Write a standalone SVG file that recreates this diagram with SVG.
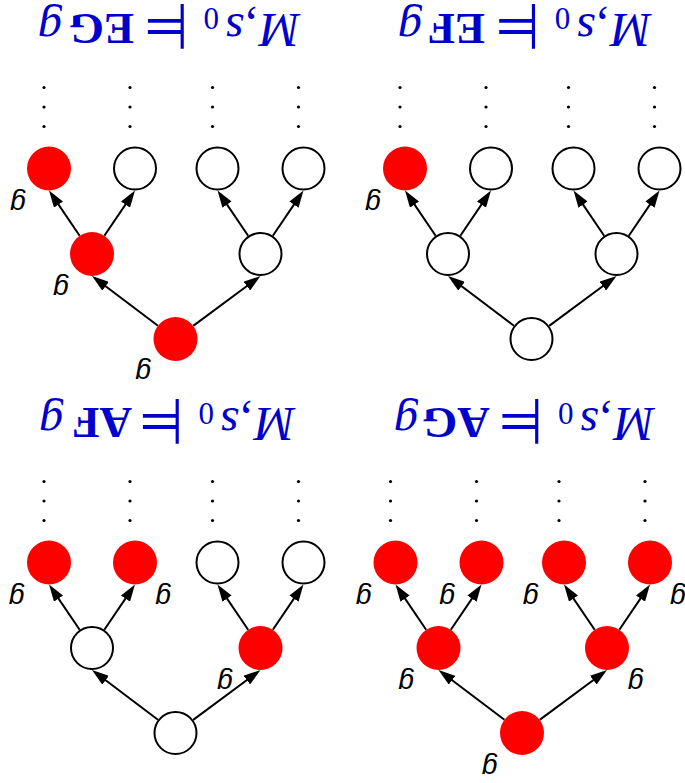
<svg xmlns="http://www.w3.org/2000/svg" width="685" height="783" viewBox="0 0 685 783">
<defs>
<style>
.red{fill:#ff0000;stroke:none}
.wht{fill:#ffffff;stroke:#000000;stroke-width:2}
.edge{stroke:#000000;stroke-width:2;fill:none;marker-end:url(#ah)}
.lbl{font-family:"Liberation Sans",Arial,sans-serif;font-style:italic;font-size:28px;fill:#000000;text-anchor:middle}
.dot{fill:#000000}
.ttl{font-family:"Liberation Serif","Times New Roman",serif;font-size:48px;fill:#0000cc}
.it{font-style:italic}
.bf{font-weight:bold;font-size:45px}
.sub{font-size:31px}
.mod{font-family:"DejaVu Sans",sans-serif;font-size:64px}
</style>
<marker id="ah" viewBox="0 0 17 11" refX="9" refY="5.5" markerWidth="17" markerHeight="11" markerUnits="userSpaceOnUse" orient="auto">
<path d="M0,0 L17,5.5 L0,11 z" fill="#000000"/>
</marker>
</defs>
<g transform="rotate(180 342.5 391.5)">
<g id="connectors">
<line class="edge" x1="491.83" y1="457.10" x2="430.93" y2="502.24"/>
<line class="edge" x1="527.06" y1="457.25" x2="586.61" y2="502.18"/>
<line class="edge" x1="412.16" y1="547.22" x2="385.99" y2="585.88"/>
<line class="edge" x1="436.84" y1="547.22" x2="463.01" y2="585.88"/>
<line class="edge" x1="580.66" y1="547.22" x2="554.49" y2="585.88"/>
<line class="edge" x1="605.34" y1="547.22" x2="631.51" y2="585.88"/>
<line class="edge" x1="135.83" y1="457.10" x2="74.93" y2="502.24"/>
<line class="edge" x1="171.06" y1="457.25" x2="230.61" y2="502.18"/>
<line class="edge" x1="56.16" y1="547.22" x2="29.99" y2="585.88"/>
<line class="edge" x1="80.84" y1="547.22" x2="107.01" y2="585.88"/>
<line class="edge" x1="224.66" y1="547.22" x2="198.49" y2="585.88"/>
<line class="edge" x1="249.34" y1="547.22" x2="275.51" y2="585.88"/>
<line class="edge" x1="491.83" y1="63.10" x2="430.93" y2="108.24"/>
<line class="edge" x1="527.06" y1="63.25" x2="586.61" y2="108.18"/>
<line class="edge" x1="412.16" y1="153.22" x2="385.99" y2="191.88"/>
<line class="edge" x1="436.84" y1="153.22" x2="463.01" y2="191.88"/>
<line class="edge" x1="580.66" y1="153.22" x2="554.49" y2="191.88"/>
<line class="edge" x1="605.34" y1="153.22" x2="631.51" y2="191.88"/>
<line class="edge" x1="145.33" y1="63.10" x2="84.43" y2="108.24"/>
<line class="edge" x1="180.56" y1="63.25" x2="240.11" y2="108.18"/>
<line class="edge" x1="65.66" y1="153.22" x2="39.49" y2="191.88"/>
<line class="edge" x1="90.34" y1="153.22" x2="116.51" y2="191.88"/>
<line class="edge" x1="234.16" y1="153.22" x2="207.99" y2="191.88"/>
<line class="edge" x1="258.84" y1="153.22" x2="285.01" y2="191.88"/>
</g>
<!-- EG panel -->
<g id="eg-root"><circle class="red" cx="509.5" cy="444" r="22"/><text class="lbl" x="541.7" y="419.5">g</text></g>
<g id="eg-m1"><circle class="wht" cx="424.5" cy="529" r="21"/></g>
<g id="eg-m2"><circle class="red" cx="593" cy="529" r="22"/><text class="lbl" x="624" y="503.5">g</text></g>
<g id="eg-l1"><circle class="wht" cx="381.5" cy="614.5" r="21"/></g>
<g id="eg-l2"><circle class="wht" cx="467.5" cy="614.5" r="21"/></g>
<g id="eg-l3"><circle class="wht" cx="550" cy="614.5" r="21"/></g>
<g id="eg-l4"><circle class="red" cx="636" cy="614.5" r="22"/><text class="lbl" x="667" y="588.2">g</text></g>
<g id="eg-dots" class="dot">
<circle cx="386.5" cy="656.5" r="1.6"/><circle cx="386.5" cy="676" r="1.6"/><circle cx="386.5" cy="695.5" r="1.6"/>
<circle cx="472.5" cy="656.5" r="1.6"/><circle cx="472.5" cy="676" r="1.6"/><circle cx="472.5" cy="695.5" r="1.6"/>
<circle cx="555" cy="656.5" r="1.6"/><circle cx="555" cy="676" r="1.6"/><circle cx="555" cy="695.5" r="1.6"/>
<circle cx="641" cy="656.5" r="1.6"/><circle cx="641" cy="676" r="1.6"/><circle cx="641" cy="695.5" r="1.6"/>
</g>
<g id="eg-title" class="ttl">
<text x="385" y="769.5" class="it">M</text><text x="428" y="769.5">,</text><text x="441" y="769.5" class="it">s</text><text x="466" y="774.7" class="sub">0</text><text class="mod" transform="translate(497 779) scale(0.8 1)">⊨</text><text x="551" y="769.5" class="bf">EG</text><text x="623" y="769.5" class="it">g</text>
</g>
<!-- EF panel -->
<g id="ef-root"><circle class="wht" cx="153.5" cy="444" r="21"/></g>
<g id="ef-m1"><circle class="wht" cx="68.5" cy="529" r="21"/></g>
<g id="ef-m2"><circle class="wht" cx="237" cy="529" r="21"/></g>
<g id="ef-l1"><circle class="wht" cx="25.5" cy="614.5" r="21"/></g>
<g id="ef-l2"><circle class="wht" cx="111.5" cy="614.5" r="21"/></g>
<g id="ef-l3"><circle class="wht" cx="194" cy="614.5" r="21"/></g>
<g id="ef-l4"><circle class="red" cx="280" cy="614.5" r="22"/><text class="lbl" x="312" y="588.2">g</text></g>
<g id="ef-dots" class="dot">
<circle cx="30.5" cy="656.5" r="1.6"/><circle cx="30.5" cy="676" r="1.6"/><circle cx="30.5" cy="695.5" r="1.6"/>
<circle cx="116.5" cy="656.5" r="1.6"/><circle cx="116.5" cy="676" r="1.6"/><circle cx="116.5" cy="695.5" r="1.6"/>
<circle cx="199" cy="656.5" r="1.6"/><circle cx="199" cy="676" r="1.6"/><circle cx="199" cy="695.5" r="1.6"/>
<circle cx="285" cy="656.5" r="1.6"/><circle cx="285" cy="676" r="1.6"/><circle cx="285" cy="695.5" r="1.6"/>
</g>
<g id="ef-title" class="ttl">
<text x="33.7" y="769.5" class="it">M</text><text x="76.7" y="769.5">,</text><text x="89.7" y="769.5" class="it">s</text><text x="114.7" y="774.7" class="sub">0</text><text class="mod" transform="translate(145.7 779) scale(0.8 1)">⊨</text><text x="200" y="769.5" class="bf">EF</text><text x="263" y="769.5" class="it">g</text>
</g>
<!-- AF panel -->
<g id="af-root"><circle class="wht" cx="509.5" cy="50" r="21"/></g>
<g id="af-m1"><circle class="red" cx="424.5" cy="135" r="22"/><text class="lbl" x="460" y="109.2">g</text></g>
<g id="af-m2"><circle class="wht" cx="593" cy="135" r="21"/></g>
<g id="af-l1"><circle class="wht" cx="381.5" cy="220.5" r="21"/></g>
<g id="af-l2"><circle class="wht" cx="467.5" cy="220.5" r="21"/></g>
<g id="af-l3"><circle class="red" cx="550" cy="220.5" r="22"/><text class="lbl" x="521.7" y="194.2">g</text></g>
<g id="af-l4"><circle class="red" cx="636" cy="220.5" r="22"/><text class="lbl" x="668.3" y="194.2">g</text></g>
<g id="af-dots" class="dot">
<circle cx="386.5" cy="262.5" r="1.6"/><circle cx="386.5" cy="282" r="1.6"/><circle cx="386.5" cy="301.5" r="1.6"/>
<circle cx="472.5" cy="262.5" r="1.6"/><circle cx="472.5" cy="282" r="1.6"/><circle cx="472.5" cy="301.5" r="1.6"/>
<circle cx="555" cy="262.5" r="1.6"/><circle cx="555" cy="282" r="1.6"/><circle cx="555" cy="301.5" r="1.6"/>
<circle cx="641" cy="262.5" r="1.6"/><circle cx="641" cy="282" r="1.6"/><circle cx="641" cy="301.5" r="1.6"/>
</g>
<g id="af-title" class="ttl">
<text x="390" y="375" class="it">M</text><text x="433" y="375">,</text><text x="446" y="375" class="it">s</text><text x="471" y="380.2" class="sub">0</text><text class="mod" transform="translate(502 384.5) scale(0.8 1)">⊨</text><text x="553" y="375" class="bf">AF</text><text x="621.7" y="375" class="it">g</text>
</g>
<!-- AG panel -->
<g id="ag-root"><circle class="red" cx="163" cy="50" r="22"/><text class="lbl" x="195.3" y="24.2">g</text></g>
<g id="ag-m1"><circle class="red" cx="78" cy="135" r="22"/><text class="lbl" x="49.3" y="109.2">g</text></g>
<g id="ag-m2"><circle class="red" cx="246.5" cy="135" r="22"/><text class="lbl" x="278.7" y="109.2">g</text></g>
<g id="ag-l1"><circle class="red" cx="35" cy="220.5" r="22"/><text class="lbl" x="7" y="194.2">g</text></g>
<g id="ag-l2"><circle class="red" cx="121" cy="220.5" r="22"/><text class="lbl" x="154.3" y="194.2">g</text></g>
<g id="ag-l3"><circle class="red" cx="203.5" cy="220.5" r="22"/><text class="lbl" x="237.7" y="194.2">g</text></g>
<g id="ag-l4"><circle class="red" cx="289.5" cy="220.5" r="22"/><text class="lbl" x="321.3" y="194.2">g</text></g>
<g id="ag-dots" class="dot">
<circle cx="40" cy="262.5" r="1.6"/><circle cx="40" cy="282" r="1.6"/><circle cx="40" cy="301.5" r="1.6"/>
<circle cx="126" cy="262.5" r="1.6"/><circle cx="126" cy="282" r="1.6"/><circle cx="126" cy="301.5" r="1.6"/>
<circle cx="208.5" cy="262.5" r="1.6"/><circle cx="208.5" cy="282" r="1.6"/><circle cx="208.5" cy="301.5" r="1.6"/>
<circle cx="294.5" cy="262.5" r="1.6"/><circle cx="294.5" cy="282" r="1.6"/><circle cx="294.5" cy="301.5" r="1.6"/>
</g>
<g id="ag-title" class="ttl">
<text x="30.4" y="375" class="it">M</text><text x="73.4" y="375">,</text><text x="86.4" y="375" class="it">s</text><text x="111.4" y="380.2" class="sub">0</text><text class="mod" transform="translate(142.4 384.5) scale(0.8 1)">⊨</text><text x="195.3" y="375" class="bf">AG</text><text x="267" y="375" class="it">g</text>
</g>
</g>
</svg>
